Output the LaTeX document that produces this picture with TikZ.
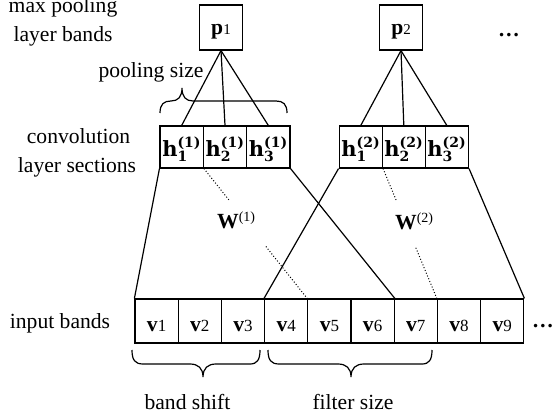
\documentclass[tikz,border=0pt]{standalone}
\usepackage{fontspec}
\setmainfont{Liberation Serif}
\newfontfamily\hfont{DejaVu Serif}
\usetikzlibrary{calc}
\newcommand\vlab[1]{\textbf{v}{\fontsize{17}{17}\selectfont #1}}
\newcommand\plab[1]{\textbf{p}{\fontsize{15}{15}\selectfont #1}}
\newcommand\hlab[2]{{\hfont\bfseries\fontsize{21}{21}\selectfont h}$^{\mbox{\hfont\bfseries\fontsize{14}{14}\selectfont(#1)}}_{\mbox{\hfont\bfseries\fontsize{14}{14}\selectfont #2}}$}
\newcommand\wlab[1]{\textbf{W}{\fontsize{14}{14}\selectfont\raisebox{7pt}{(#1)}}}
\tikzset{
  ln/.style={line width=1.2pt},
  vcell/.style={draw, line width=1.2pt, inner sep=0pt, minimum width=43.2pt, minimum height=44pt, text height=20pt, text depth=0pt},
  hcell/.style={draw, line width=1.2pt, inner sep=0pt, minimum width=43.3pt, minimum height=42pt, text height=20pt, text depth=0pt},
  pcell/.style={draw, line width=1.2pt, inner sep=0pt, minimum width=43.5pt, minimum height=45pt, text height=15pt, text depth=0pt},
  lbl/.style={anchor=base, inner sep=0pt},
  dotln/.style={line width=1pt, dotted},
}
\begin{document}
\begin{tikzpicture}[x=1pt, y=-1pt, font=\fontsize{21.6pt}{26pt}\selectfont]
\useasboundingbox (0,0) rectangle (553,419);
% pooling nodes
\node[pcell] (p1) at (221,27.5) {\plab{1}};
\node[pcell] (p2) at (401,27.5) {\plab{2}};
\node[lbl, anchor=base west] (dots1) at (498,37) {\textbf{…}};
% convolution nodes
\node[hcell] (ha1) at (181.7,147) {\hlab{1}{1}};
\node[hcell] (ha2) at (225.0,147) {\hlab{1}{2}};
\node[hcell] (ha3) at (268.3,147) {\hlab{1}{3}};
\node[hcell] (hb1) at (360.8,147) {\hlab{2}{1}};
\node[hcell] (hb2) at (403.8,147) {\hlab{2}{2}};
\node[hcell] (hb3) at (446.8,147) {\hlab{2}{3}};
% input nodes
\foreach \i in {1,...,9} {
  \node[vcell] (v\i) at ({156.6+43.2*(\i-1)},321) {\vlab{\i}};
}
\node[lbl, anchor=base west] (dots2) at (532,327.5) {\textbf{…}};
% pooling connectors
\foreach \i in {1,2,3} {
  \draw[ln] (p1.south) -- (ha\i.north);
  \draw[ln] (p2.south) -- (hb\i.north);
}
% filter connectors
\draw[ln] (ha1.south west) -- (v1.north west);
\draw[ln] (ha3.south east) -- (v6.north east);
\draw[ln] (hb1.south west) -- (v4.north west);
\draw[ln] (hb3.south east) -- (v9.north east);
% dotted weight lines
\draw[dotln] (ha1.south east) -- ($(ha1.south east)!0.245!(v5.north west)$);
\draw[dotln] ($(ha1.south east)!0.60!(v5.north west)$) -- (v5.north west);
\draw[dotln] (hb1.south east) -- ($(hb1.south east)!0.245!(v8.north west)$);
\draw[dotln] ($(hb1.south east)!0.61!(v8.north west)$) -- (v8.north west);
\node[lbl, anchor=base west] (w1) at (217,229) {\wlab{1}};
\node[lbl, anchor=base west] (w2) at (395,230) {\wlab{2}};
% braces
\draw[ln] (160,113) .. controls (160,104) and (164,101) .. (171,101)
  .. controls (178,101) and (182,97) .. (182,88)
  .. controls (182,97) and (186,101) .. (193,101) -- (276,101)
  .. controls (283,101) and (287,104) .. (287,113);
\draw[ln] (132,350) .. controls (132,360) and (135,364) .. (143,364) -- (190,364)
  .. controls (198,364) and (203,368) .. (203,377)
  .. controls (203,368) and (208,364) .. (216,364) -- (250,364)
  .. controls (257,364) and (260,360) .. (260,350);
\draw[ln] (268,350) .. controls (268,360) and (271,364) .. (279,364) -- (338,364)
  .. controls (346,364) and (351,368) .. (351,377)
  .. controls (351,368) and (356,364) .. (364,364) -- (422,364)
  .. controls (429,364) and (432,360) .. (432,350);
% texts
\node[lbl] (t1) at (63,13) {max pooling};
\node[lbl] (t2) at (63,42) {layer bands};
\node[lbl] (t3) at (151,78) {pooling size};
\node[lbl] (t4) at (78.5,144) {convolution};
\node[lbl] (t5) at (77,173) {layer sections};
\node[lbl] (t6) at (60,328) {input bands};
\node[lbl] (t7) at (187.5,409) {band shift};
\node[lbl] (t8) at (353,409) {filter size};
\end{tikzpicture}
\end{document}
